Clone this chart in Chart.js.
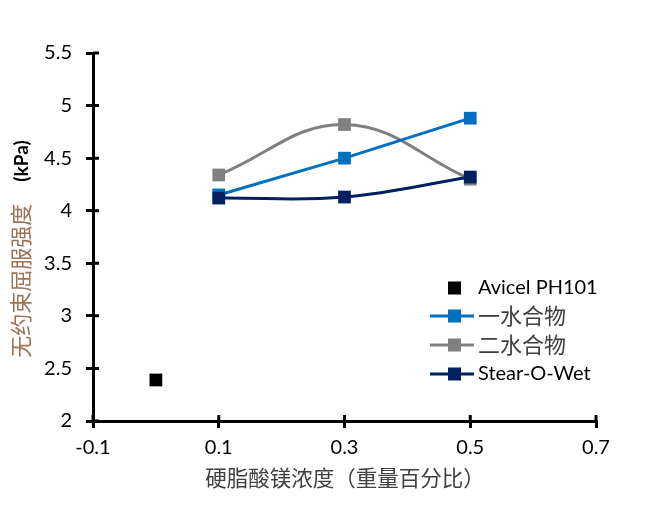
<!DOCTYPE html>
<html>
<head>
<meta charset="utf-8">
<script src="https://cdn.jsdelivr.net/npm/chart.js@4/dist/chart.umd.min.js"></script>
<style>
  html, body { margin: 0; padding: 0; background: #fff; }
  #wrap { width: 656px; height: 512px; position: relative; }
</style>
</head>
<body>
<div id="wrap"><canvas id="chart" width="656" height="512"></canvas></div>
<script>
"use strict";

// concentration of magnesium stearate (wt %)
var xValues = [0.1, 0.3, 0.5];
var monohydrate = [4.15, 4.50, 4.88];
var dihydrate = [4.34, 4.82, 4.30];
var stearOWet = [4.12, 4.13, 4.32];
var avicelX = [0];
var avicelY = [2.39];

var xTicks = [-0.1, 0.1, 0.3, 0.5, 0.7];
var yTicks = [2, 2.5, 3, 3.5, 4, 4.5, 5, 5.5];

var seriesNames = ["Avicel PH101", "一水合物", "二水合物", "Stear-O-Wet"];
var seriesColors = ["#000000", "#0070c0", "#808080", "#002060"];

var LATIN = "Lato, 'Open Sans', sans-serif";
var CJK = "'Noto Sans CJK SC', sans-serif";

function toPoints(xs, ys) {
  return xs.map(function (x, i) { return { x: x, y: ys[i] }; });
}

var lineBase = {
  showLine: true,
  borderWidth: 3,
  pointStyle: "rect",
  pointRadius: 9,
  pointHoverRadius: 9,
  pointBorderWidth: 0,
  pointHoverBorderWidth: 0,
  clip: false
};

function lineSet(label, data, color, tension, order) {
  return Object.assign({}, lineBase, {
    label: label,
    data: data,
    borderColor: color,
    backgroundColor: color,
    pointBackgroundColor: color,
    pointBorderColor: color,
    tension: tension,
    order: order
  });
}

var extras = {
  id: "extras",
  afterDraw: function (chart) {
    var ctx = chart.ctx;
    var xs = chart.scales.x;
    var ys = chart.scales.y;
    var area = chart.chartArea;
    ctx.save();

    // tick marks poking into the plot area
    ctx.strokeStyle = "#000";
    ctx.lineWidth = 3;
    ctx.beginPath();
    xTicks.forEach(function (v) {
      var px = xs.getPixelForValue(v);
      ctx.moveTo(px, area.bottom);
      ctx.lineTo(px, area.bottom - 6);
    });
    yTicks.forEach(function (v) {
      var py = ys.getPixelForValue(v);
      ctx.moveTo(area.left, py);
      ctx.lineTo(area.left + 6, py);
    });
    ctx.stroke();

    // x title
    ctx.fillStyle = "#404040";
    ctx.font = "21.5px " + CJK;
    ctx.textAlign = "center";
    ctx.textBaseline = "middle";
    ctx.fillText("硬脂酸镁浓度（重量百分比）", 345, 478);

    // y title: mixed colours / weights
    ctx.translate(21, 249);
    ctx.rotate(-Math.PI / 2);
    var part1 = "无约束屈服强度";
    var part2 = "(kPa)";
    ctx.font = "22px " + CJK;
    var w1 = ctx.measureText(part1).width;
    ctx.font = "bold 19px " + LATIN;
    var w2 = ctx.measureText(part2).width;
    var gap = 22;
    var start = -(w1 + gap + w2) / 2;
    ctx.textAlign = "left";
    ctx.font = "22px " + CJK;
    ctx.fillStyle = "#9c7356";
    ctx.fillText(part1, start, 0);
    ctx.font = "bold 19px " + LATIN;
    ctx.fillStyle = "#000";
    ctx.fillText(part2, start + w1 + gap, 1);
    ctx.setTransform(1, 0, 0, 1, 0, 0);
    ctx.restore();

    // legend
    ctx.save();
    var rowsY = [288, 316, 345, 374];
    seriesNames.forEach(function (name, i) {
      var y = rowsY[i];
      var c = seriesColors[i];
      ctx.fillStyle = c;
      ctx.strokeStyle = c;
      if (i > 0) {
        ctx.lineWidth = 3;
        ctx.beginPath();
        ctx.moveTo(430, y);
        ctx.lineTo(474, y);
        ctx.stroke();
      }
      ctx.fillRect(448, y - 6.5, 13, 13);
      var isCjk = /[\u4e00-\u9fff]/.test(name);
      ctx.font = isCjk ? "22px " + CJK : "20px " + LATIN;
      ctx.fillStyle = isCjk ? "#404040" : "#000";
      ctx.textAlign = "left";
      ctx.textBaseline = "middle";
      ctx.fillText(name, 478, y);
    });
    ctx.restore();
  }
};

var chart = new Chart(document.getElementById("chart"), {
  type: "scatter",
  data: {
    datasets: [
      lineSet(seriesNames[3], toPoints(xValues, stearOWet), seriesColors[3], 0.4, 0),
      lineSet(seriesNames[1], toPoints(xValues, monohydrate), seriesColors[1], 0, 1),
      lineSet(seriesNames[2], toPoints(xValues, dihydrate), seriesColors[2], 0.4, 2),
      Object.assign({}, lineBase, {
        label: seriesNames[0],
        data: toPoints(avicelX, avicelY),
        showLine: false,
        backgroundColor: seriesColors[0],
        borderColor: seriesColors[0],
        order: 3
      })
    ]
  },
  options: {
    responsive: false,
    animation: false,
    layout: { padding: { left: 0, top: 53, right: 60, bottom: 0 } },
    plugins: {
      legend: { display: false },
      tooltip: { enabled: false }
    },
    scales: {
      x: {
        type: "linear",
        min: -0.1,
        max: 0.7,
        afterBuildTicks: function (scale) {
          scale.ticks = xTicks.map(function (v) { return { value: v }; });
        },
        afterFit: function (scale) { scale.height = 91; },
        border: { display: true, color: "#000", width: 3 },
        grid: { display: true, drawOnChartArea: false, drawTicks: true, tickLength: 7, lineWidth: 3, color: "#000" },
        ticks: {
          padding: 8,
          color: "#000",
          font: { family: LATIN, size: 20 },
          maxRotation: 0,
          callback: function (v) { return String(Math.round(v * 10) / 10); }
        }
      },
      y: {
        type: "linear",
        min: 2,
        max: 5.5,
        afterBuildTicks: function (scale) {
          scale.ticks = yTicks.map(function (v) { return { value: v }; });
        },
        afterFit: function (scale) { scale.width = 93; },
        border: { display: true, color: "#000", width: 3 },
        grid: { display: true, drawOnChartArea: false, drawTicks: true, tickLength: 7, lineWidth: 3, color: "#000" },
        ticks: {
          padding: 14,
          color: "#000",
          font: { family: LATIN, size: 20 },
          callback: function (v) { return String(v); }
        }
      }
    }
  },
  plugins: [extras]
});
</script>
</body>
</html>
